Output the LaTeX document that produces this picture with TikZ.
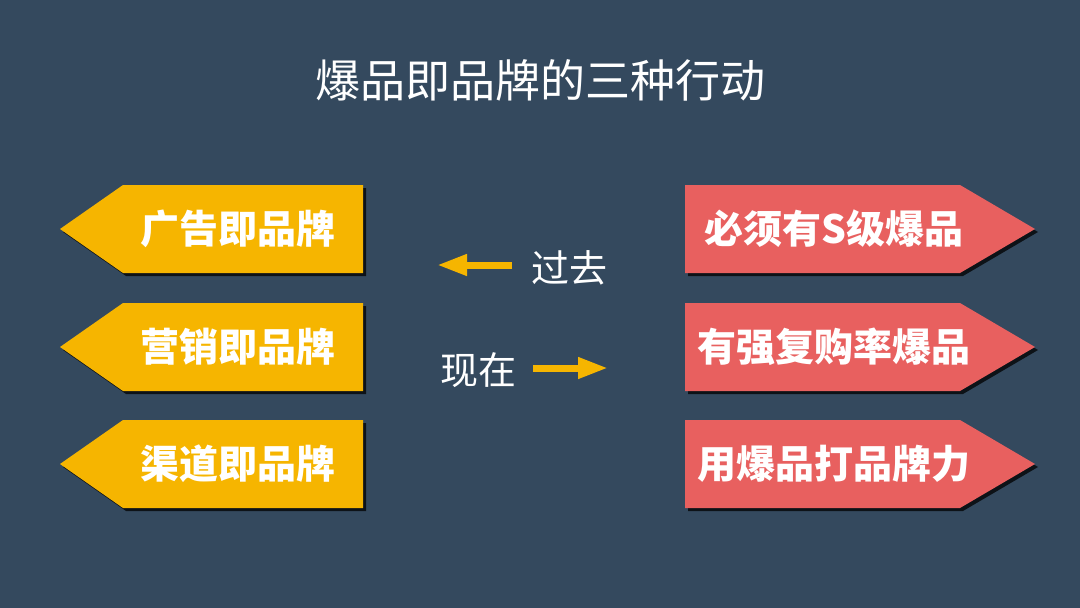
\documentclass[tikz,border=0pt]{standalone}
\usepackage{fontspec}
\newfontfamily\cjk{Noto Sans CJK SC}
\usetikzlibrary{arrows.meta}
\definecolor{bg}{HTML}{34495E}
\definecolor{yel}{HTML}{F6B500}
\definecolor{redc}{HTML}{E8605F}
\tikzset{
  lbl/.style={text=white,font=\cjk\fontsize{39}{41}\selectfont\bfseries,inner sep=0pt},
  plain/.style={text=white,font=\cjk\fontsize{38}{40}\selectfont,inner sep=0pt},
  sh/.style={fill=black,fill opacity=0.75},
  arr/.style={draw=yel,line width=7pt,-{Triangle[length=30pt,width=20pt]}}
}
\begin{document}
\begin{tikzpicture}[x=1pt,y=-1pt]
\fill[bg] (0,0) rectangle (1080,608);
\useasboundingbox (0,0) rectangle (1080,608);
\node[text=white,font=\cjk\fontsize{45}{47}\selectfont,inner sep=0pt] (title) at (540,80) {爆品即品牌的三种行动};
% left yellow shapes
\foreach \cy/\t/\n in {229/广告即品牌/l1,347/营销即品牌/l2,464/渠道即品牌/l3}{
  \fill[sh] (63,\cy+3) -- (126,\cy-41) -- (366,\cy-41) -- (366,\cy+47) -- (126,\cy+47) -- cycle;
  \fill[yel] (60,\cy) -- (123,\cy-44) -- (363,\cy-44) -- (363,\cy+44) -- (123,\cy+44) -- cycle;
  \node[lbl] (\n) at (238,\cy) {\t};
}
% right red shapes
\foreach \cy/\t/\n in {229/必须有S级爆品/r1,347/有强复购率爆品/r2,464/用爆品打品牌力/r3}{
  \fill[sh] (688,\cy-41) -- (963,\cy-41) -- (1038,\cy+3) -- (963,\cy+47) -- (688,\cy+47) -- cycle;
  \fill[redc] (685,\cy-44) -- (960,\cy-44) -- (1035,\cy) -- (960,\cy+44) -- (685,\cy+44) -- cycle;
  \node[lbl] (\n) at (834,\cy) {\t};
}
\node[plain] (past) at (569,268) {过去};
\node[plain] (now) at (478,370) {现在};
\coordinate (pa) at (512,265);
\coordinate (pb) at (437,265);
\coordinate (na) at (533,368);
\coordinate (nb) at (608,368);
\draw[arr] (pa) -- (pb);
\draw[arr] (na) -- (nb);
\end{tikzpicture}
\end{document}
